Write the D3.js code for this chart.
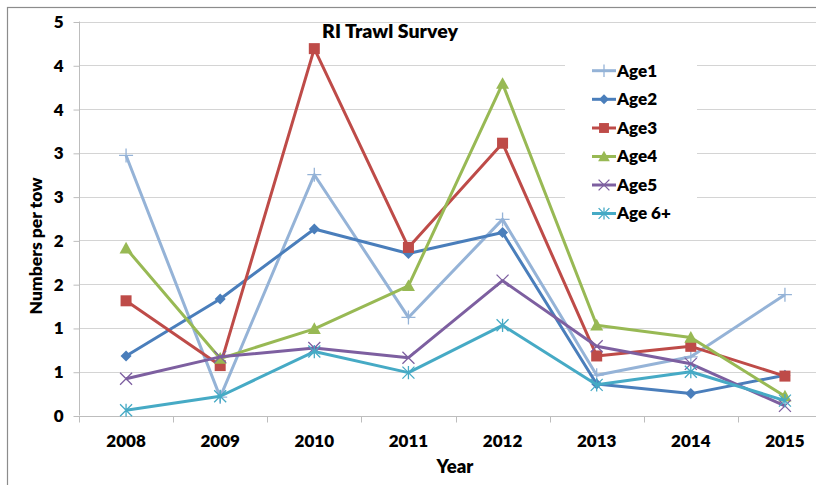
<!DOCTYPE html>
<html>
<head>
<meta charset="utf-8">
<script src="https://cdn.jsdelivr.net/npm/d3@7/dist/d3.min.js"></script>
<style>
  html, body { margin: 0; padding: 0; background: #fff; }
  svg { display: block; }
  text { font-family: Lato, "Open Sans", "Liberation Sans", sans-serif; font-weight: 800; fill: #000; }
</style>
</head>
<body>
<svg id="chart" width="816" height="485"></svg>
<script>
// Survey years along the x axis
const years = ["2008", "2009", "2010", "2011", "2012", "2013", "2014", "2015"];

// Mean numbers per tow by age class
const age1  = [2.97, 0.21, 2.75, 1.12, 2.24, 0.46, 0.67, 1.38];
const age2  = [0.68, 1.33, 2.13, 1.85, 2.09, 0.36, 0.25, 0.46];
const age3  = [1.31, 0.57, 4.19, 1.92, 3.11, 0.68, 0.79, 0.45];
const age4  = [1.91, 0.65, 0.99, 1.48, 3.79, 1.03, 0.89, 0.22];
const age5  = [0.42, 0.67, 0.77, 0.66, 1.54, 0.79, 0.59, 0.11];
const age6p = [0.06, 0.22, 0.73, 0.49, 1.03, 0.35, 0.50, 0.17];

// Y tick values (labels are rounded to whole numbers)
const yTicks = [0, 0.5, 1, 1.5, 2, 2.5, 3, 3.5, 4, 4.5];

const seriesNames = ["Age1", "Age2", "Age3", "Age4", "Age5", "Age 6+"];
const seriesValues = [age1, age2, age3, age4, age5, age6p];
const seriesColors = ["#95B3D7", "#4A7EBB", "#BE4B48", "#98B954", "#7D5FA0", "#46AAC5"];
const seriesMarkers = ["plus", "diamond", "square", "triangle", "cross", "star"];

const svg = d3.select("#chart");

// Plot area (the frame runs past the right edge of the view)
const plot = { left: 79, top: 21.5, right: 832, bottom: 415.5 };

// Outer chart frame
svg.append("rect")
  .attr("x", 7.5).attr("y", 7.5)
  .attr("width", 900).attr("height", 600)
  .attr("fill", "#fff").attr("stroke", "#8c8c8c").attr("stroke-width", 1.2);

const x = d3.scaleBand().domain(years).range([plot.left, plot.right]).padding(0);
const y = d3.scaleLinear().domain([0, 4.5]).range([plot.bottom, plot.top]);

// Horizontal gridlines
svg.append("g")
  .selectAll("line")
  .data(yTicks.filter(d => d > 0))
  .join("line")
  .attr("x1", plot.left).attr("x2", plot.right)
  .attr("y1", d => Math.round(y(d)) + 0.5).attr("y2", d => Math.round(y(d)) + 0.5)
  .attr("stroke", "#d4d4d4").attr("stroke-width", 1);

// Y axis
const yAxis = d3.axisLeft(y)
  .tickValues(yTicks)
  .tickSize(6)
  .tickFormat(d => String(Math.floor(d + 0.5)));
const gy = svg.append("g")
  .attr("transform", `translate(${plot.left + 0.5},0)`)
  .call(yAxis);
gy.select(".domain").attr("stroke", "#bdbdbd").attr("d", `M0,${plot.top}V${plot.bottom}`);
gy.selectAll(".tick line").attr("stroke", "#bdbdbd").attr("transform", "translate(0,0.5)");
gy.selectAll(".tick text")
  .attr("x", -16).attr("dy", "0.35em")
  .style("font-size", "17px").style("font-family", "Lato, sans-serif").style("font-weight", "800")
  .attr("fill", "#000");

// X axis with tick marks on category boundaries
const gx = svg.append("g")
  .attr("transform", `translate(0,${Math.round(plot.bottom) + 0.5})`);
gx.append("line")
  .attr("x1", plot.left).attr("x2", plot.right)
  .attr("stroke", "#bdbdbd");
gx.selectAll("line.tk")
  .data(years.map(d => x(d)))
  .join("line")
  .attr("class", "tk")
  .attr("x1", d => Math.round(d) + 0.5).attr("x2", d => Math.round(d) + 0.5)
  .attr("y1", 0).attr("y2", 6)
  .attr("stroke", "#bdbdbd");
gx.selectAll("text")
  .data(years)
  .join("text")
  .attr("x", d => x(d) + x.bandwidth() / 2)
  .attr("y", 25)
  .attr("dy", "0.35em")
  .attr("text-anchor", "middle")
  .style("font-size", "17px")
  .text(d => d);

// Axis titles and chart title
svg.append("text")
  .attr("x", 455).attr("y", 467).attr("dy", "0.35em")
  .attr("text-anchor", "middle").style("font-size", "18.5px")
  .text("Year");
svg.append("text")
  .attr("transform", "translate(36,246) rotate(-90)")
  .attr("dy", "0.35em")
  .attr("text-anchor", "middle").style("font-size", "17.5px")
  .text("Numbers per tow");
svg.append("text")
  .attr("x", 390).attr("y", 31).attr("dy", "0.35em")
  .attr("text-anchor", "middle").style("font-size", "19.5px")
  .text("RI Trawl Survey");

// Marker drawing
function drawMarker(g, type, color, cx, cy, scale) {
  const s = scale || 1;
  if (type === "plus") {
    const r = 7 * s;
    g.append("path").attr("d", `M${cx - r},${cy}H${cx + r}M${cx},${cy - r}V${cy + r}`)
      .attr("stroke", color).attr("stroke-width", 1.3).attr("fill", "none");
  } else if (type === "diamond") {
    const r = 5.5 * s;
    g.append("path").attr("d", `M${cx},${cy - r}L${cx + r},${cy}L${cx},${cy + r}L${cx - r},${cy}Z`)
      .attr("fill", color);
  } else if (type === "square") {
    const r = 5.5 * s;
    g.append("rect").attr("x", cx - r).attr("y", cy - r).attr("width", 2 * r).attr("height", 2 * r)
      .attr("fill", color);
  } else if (type === "triangle") {
    const r = 6.5 * s;
    g.append("path").attr("d", `M${cx},${cy - r}L${cx + r},${cy + r * 0.8}L${cx - r},${cy + r * 0.8}Z`)
      .attr("fill", color);
  } else if (type === "cross") {
    const r = 6 * s;
    g.append("path").attr("d", `M${cx - r},${cy - r}L${cx + r},${cy + r}M${cx - r},${cy + r}L${cx + r},${cy - r}`)
      .attr("stroke", color).attr("stroke-width", 1.3).attr("fill", "none");
  } else if (type === "star") {
    const r = 6 * s;
    g.append("path").attr("d",
      `M${cx - r},${cy - r}L${cx + r},${cy + r}M${cx - r},${cy + r}L${cx + r},${cy - r}M${cx},${cy - r * 1.1}V${cy + r * 1.1}`)
      .attr("stroke", color).attr("stroke-width", 1.3).attr("fill", "none");
  }
}

// Series lines and markers
const line = d3.line()
  .x((d, i) => x(years[i]) + x.bandwidth() / 2)
  .y(d => y(d));

seriesValues.forEach((vals, k) => {
  const g = svg.append("g");
  g.append("path")
    .datum(vals)
    .attr("d", line)
    .attr("fill", "none")
    .attr("stroke", seriesColors[k])
    .attr("stroke-width", 3)
    .attr("stroke-linejoin", "round");
  vals.forEach((v, i) => {
    drawMarker(g, seriesMarkers[k], seriesColors[k], x(years[i]) + x.bandwidth() / 2, y(v));
  });
});

// Legend
const legend = svg.append("g");
legend.append("rect")
  .attr("x", 565).attr("y", 56).attr("width", 132).attr("height", 172)
  .attr("fill", "#fff");
const legY = [70.7, 99.3, 128, 156.5, 185, 213.5];
seriesNames.forEach((name, k) => {
  const cy = legY[k];
  legend.append("line")
    .attr("x1", 592).attr("x2", 616).attr("y1", cy).attr("y2", cy)
    .attr("stroke", seriesColors[k]).attr("stroke-width", 3);
  drawMarker(legend, seriesMarkers[k], seriesColors[k], 604, cy, 0.9);
  legend.append("text")
    .attr("x", 617).attr("y", cy).attr("dy", "0.35em")
    .style("font-size", "17px")
    .text(name);
});
</script>
</body>
</html>
